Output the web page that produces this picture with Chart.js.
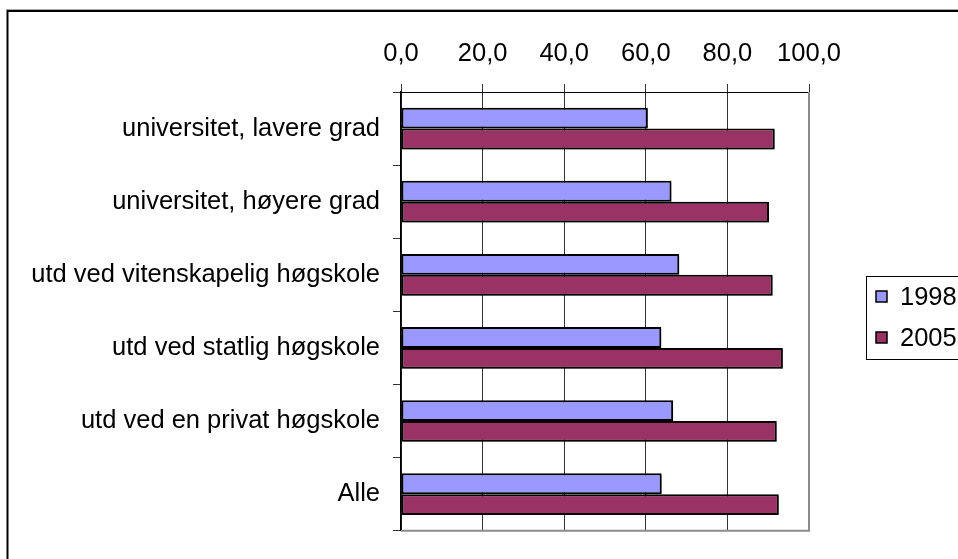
<!DOCTYPE html>
<html>
<head>
<meta charset="utf-8">
<title>Universitet og høgskole 1998 / 2005</title>
<script src="https://cdn.jsdelivr.net/npm/chart.js@4/dist/chart.umd.min.js"></script>
<style>
  html, body { margin: 0; padding: 0; background: #fff; }
  canvas { display: block; }
</style>
</head>
<body>
<canvas id="chart" width="958" height="559"></canvas>
<script>
// ---------------------------------------------------------
// Data
// ---------------------------------------------------------
const categories = [
  'universitet, lavere grad',
  'universitet, høyere grad',
  'utd ved vitenskapelig høgskole',
  'utd ved statlig høgskole',
  'utd ved en privat høgskole',
  'Alle',
];
const seriesNames = ['1998', '2005'];
const values1998 = [60.5, 66.3, 68.2, 63.8, 66.7, 63.9];
const values2005 = [91.6, 90.2, 91.1, 93.6, 92.1, 92.6];
const tickMin = 0;
const tickMax = 100;
const tickStep = 20;

// ---------------------------------------------------------
// Style
// ---------------------------------------------------------
const FONT = 'Liberation Sans, Arial, Helvetica, sans-serif';
const FONT_SIZE = 25.5;
const BLUE = '#9999ff';
const PLUM = '#993366';
const GRID = '#333';

// Excel-like frame, plot border, bar shadow and legend box
const decorations = {
  id: 'decorations',
  beforeDatasetsDraw(chart) {
    const ctx = chart.ctx;
    ctx.save();
    ctx.shadowColor = 'rgba(0, 0, 0, 0.3)';
    ctx.shadowOffsetX = 2;
    ctx.shadowOffsetY = 2;
    ctx.shadowBlur = 0;
  },
  afterDatasetsDraw(chart) {
    chart.ctx.restore();
  },
  afterDraw(chart) {
    const ctx = chart.ctx;
    const a = chart.chartArea;
    ctx.save();

    // plot area border (right + bottom)
    ctx.strokeStyle = '#8c8c8c';
    ctx.lineWidth = 2;
    ctx.beginPath();
    ctx.moveTo(a.right, a.top);
    ctx.lineTo(a.right, a.bottom);
    ctx.lineTo(a.left, a.bottom);
    ctx.stroke();

    // outer chart frame
    ctx.strokeStyle = '#aaa';
    ctx.lineWidth = 1;
    ctx.beginPath();
    ctx.moveTo(6, 9.5);
    ctx.lineTo(960, 9.5);
    ctx.stroke();
    ctx.strokeStyle = '#000';
    ctx.lineWidth = 2;
    ctx.beginPath();
    ctx.moveTo(7.5, 570);
    ctx.lineTo(7.5, 11);
    ctx.lineTo(960, 11);
    ctx.stroke();

    // legend
    ctx.lineWidth = 1;
    ctx.strokeStyle = '#000';
    ctx.strokeRect(866.5, 276.5, 120, 83);
    ctx.font = FONT_SIZE + 'px ' + FONT;
    ctx.textBaseline = 'middle';
    ctx.textAlign = 'left';
    chart.data.datasets.forEach((ds, i) => {
      const cy = 297 + i * 41;
      ctx.fillStyle = ds.backgroundColor;
      ctx.fillRect(876, cy - 6, 11, 11);
      ctx.lineWidth = 1.5;
      ctx.strokeRect(876, cy - 6, 11, 11);
      ctx.fillStyle = '#000';
      ctx.fillText(ds.label, 900, cy + 1);
    });
    ctx.restore();
  },
};

// ---------------------------------------------------------
// Chart
// ---------------------------------------------------------
const barStyle = {
  borderColor: '#000',
  borderWidth: 2,
  borderSkipped: false,
  barPercentage: 1,
  categoryPercentage: 0.57,
};

new Chart(document.getElementById('chart').getContext('2d'), {
  type: 'bar',
  data: {
    labels: categories,
    datasets: [
      { label: seriesNames[0], data: values1998, backgroundColor: BLUE, ...barStyle },
      { label: seriesNames[1], data: values2005, backgroundColor: PLUM, ...barStyle },
    ],
  },
  options: {
    indexAxis: 'y',
    responsive: false,
    animation: false,
    layout: { padding: { left: 0, top: 0, right: 149, bottom: 13 } },
    plugins: {
      legend: { display: false },
      tooltip: { enabled: false },
    },
    scales: {
      x: {
        position: 'top',
        min: tickMin,
        max: tickMax,
        afterFit: (s) => { s.height = 92; },
        ticks: {
          stepSize: tickStep,
          padding: 15,
          color: '#000',
          font: { family: FONT, size: FONT_SIZE },
          callback: (v) => v.toFixed(1).replace('.', ','),
        },
        grid: { color: GRID, lineWidth: 1, tickLength: 8 },
        border: { color: '#000', width: 1 },
      },
      y: {
        afterFit: (s) => { s.width = 401; },
        ticks: {
          padding: 13,
          color: '#000',
          font: { family: FONT, size: FONT_SIZE },
        },
        grid: { offset: true, drawOnChartArea: false, color: GRID, tickLength: 8 },
        border: { color: '#000', width: 1.5 },
      },
    },
  },
  plugins: [decorations],
});
</script>
</body>
</html>
